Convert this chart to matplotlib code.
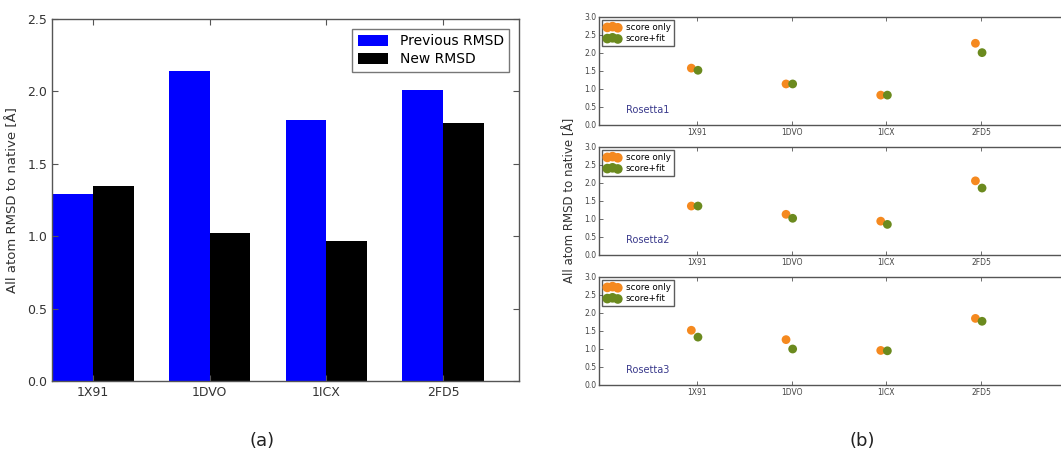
import matplotlib
matplotlib.use("Agg")
import matplotlib.pyplot as plt
import numpy as np

# structures
targets = ['1X91', '1DVO', '1ICX', '2FD5']

# (a) all-atom RMSD before / after
prev_rmsd = [1.29, 2.14, 1.80, 2.01]
new_rmsd = [1.35, 1.02, 0.97, 1.78]

# (b) per Rosetta run: score only vs score+fit
runs = ['Rosetta1', 'Rosetta2', 'Rosetta3']
score_only = [
    [1.58, 1.14, 0.83, 2.27],
    [1.36, 1.13, 0.94, 2.06],
    [1.52, 1.26, 0.96, 1.85],
]
score_fit = [
    [1.52, 1.14, 0.83, 2.01],
    [1.36, 1.02, 0.85, 1.86],
    [1.33, 1.00, 0.95, 1.77],
]

edge = '#555555'
txt = '#333333'

fig = plt.figure(figsize=(10.61, 4.58), dpi=100)

# ---- panel (a): grouped bars
ax = fig.add_axes([52 / 1061, 1 - 381 / 458, (519 - 52) / 1061, (381 - 19) / 458])
x = np.arange(len(targets))
width = 0.35
ax.bar(x, prev_rmsd, width, align='edge', color='#0000ff', edgecolor='none', label='Previous RMSD')
ax.bar(x + width, new_rmsd, width, align='edge', color='black', edgecolor='none', label='New RMSD')
ax.set_xlim(0, 4)
ax.set_ylim(0, 2.5)
ax.set_xticks(x + width)
ax.set_xticklabels(targets)
ax.set_yticks(np.arange(0, 2.51, 0.5))
ax.tick_params(direction='in', top=True, right=True, labelsize=9, colors=edge,
               labelcolor=txt, length=4, width=0.8)
for s in ax.spines.values():
    s.set_color(edge)
    s.set_linewidth(1.0)
ax.set_ylabel('All atom RMSD to native [Å]', fontsize=9.5, color=txt, labelpad=6)
leg = ax.legend(loc='upper right', fontsize=10, handlelength=2.2, handleheight=0.9,
                borderaxespad=0.7, fancybox=False, labelspacing=0.3)
leg.get_frame().set_edgecolor(edge)
leg.get_frame().set_linewidth(1.0)

# ---- panel (b): three stacked scatter panels (right edge runs off the figure)
pos = np.arange(1, len(targets) + 1)
tops = [17, 147, 277]
h = 108
left_px = 599
unit = 94.7
x0 = -0.035
span = 5.0
for i, run in enumerate(runs):
    axb = fig.add_axes([left_px / 1061, 1 - (tops[i] + h) / 458,
                        unit * (span - x0) / 1061, h / 458])
    axb.scatter(pos - 0.06, score_only[i], s=40, color='#f5891f', edgecolors='none',
                label='score only', zorder=3)
    axb.scatter(pos + 0.01, score_fit[i], s=40, color='#6b8a1e', edgecolors='none',
                label='score+fit', zorder=3)
    axb.set_xlim(x0, span)
    axb.set_ylim(0, 3.0)
    axb.set_xticks(pos)
    axb.set_xticklabels(targets)
    axb.set_yticks(np.arange(0, 3.01, 0.5))
    axb.tick_params(direction='in', top=True, right=True, labelsize=5.5, colors=edge,
                    labelcolor='#444444', length=3, width=0.6, pad=2)
    for s in axb.spines.values():
        s.set_color(edge)
        s.set_linewidth(1.0)
    axb.text(0.25, 0.32, run, fontsize=7, color='#3a3a8c')
    lg = axb.legend(loc='upper left', fontsize=6.3, scatterpoints=3, markerscale=1.1,
                    handlelength=1.8, handletextpad=0.6, borderpad=0.35,
                    labelspacing=0.25, fancybox=False, borderaxespad=0.3)
    lg.get_frame().set_edgecolor('#333333')
    lg.get_frame().set_linewidth(1.0)

fig.text(570 / 1061, 1 - 200 / 458, 'All atom RMSD to native [Å]', rotation=90,
         ha='center', va='center', fontsize=8.5, color=txt)

# panel captions
fig.text(262 / 1061, 1 - 441 / 458, '(a)', ha='center', va='center', fontsize=13, color='#222222')
fig.text(862 / 1061, 1 - 441 / 458, '(b)', ha='center', va='center', fontsize=13, color='#222222')

fig.savefig('out.png', dpi=100)
